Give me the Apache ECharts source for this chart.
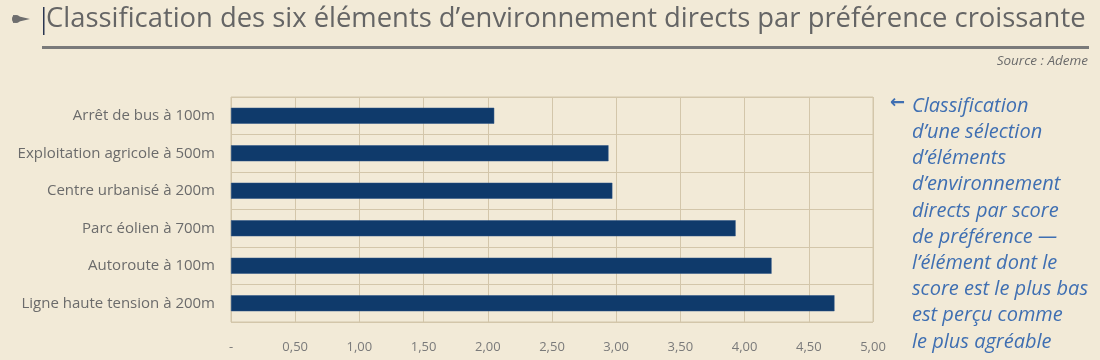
<!DOCTYPE html>
<html>
<head>
<meta charset="utf-8">
<script src="https://cdn.jsdelivr.net/npm/echarts@6/dist/echarts.min.js"></script>
<style>
html,body{margin:0;padding:0;background:#f2ead7;}
#chart{width:1100px;height:360px;}
</style>
</head>
<body>
<div id="chart"></div>
<script>
const categories = [
  "Ligne haute tension à 200m",
  "Autoroute à 100m",
  "Parc éolien à 700m",
  "Centre urbanisé à 200m",
  "Exploitation agricole à 500m",
  "Arrêt de bus à 100m"
];
const scores = [4.70, 4.21, 3.93, 2.97, 2.94, 2.05];
const xTicks = [0, 0.5, 1, 1.5, 2, 2.5, 3, 3.5, 4, 4.5, 5];
const titleText = "Classification des six éléments d’environnement directs par préférence croissante";
const sourceText = "Source : Ademe";
const noteLines = [
  "Classification",
  "d’une sélection",
  "d’éléments",
  "d’environnement",
  "directs par score",
  "de préférence —",
  "l’élément dont le",
  "score est le plus bas",
  "est perçu comme",
  "le plus agréable"
];

const chart = echarts.init(document.getElementById('chart'), null, {renderer:'canvas'});
const grey = '#6b6b6b';
const blue = '#3f6fb2';

const graphics = [
  {type:'polygon', shape:{points:[[13,15],[30,19],[13,23]]}, style:{fill:'#6e6e6e'}},
  {type:'circle', shape:{cx:16, cy:19, r:4}, style:{fill:'#6e6e6e'}},
  {type:'rect', shape:{x:43, y:7, width:1.5, height:28}, style:{fill:'#2a3550'}},
  {type:'rect', shape:{x:42, y:46, width:1047, height:3}, style:{fill:'#7a7a7a'}},
  {type:'text', left:46, top:6, style:{text:titleText, fill:'#656565', font:'normal 27.4px "Open Sans", sans-serif'}},
  {type:'text', right:12, top:54, style:{text:sourceText, fill:grey, font:'italic 13.5px "Open Sans", sans-serif'}},
  {type:'text', left:890, top:94, style:{text:'←', fill:blue, font:'bold 18px "DejaVu Sans", sans-serif'}}
];
noteLines.forEach((t,i)=>{
  graphics.push({type:'text', left:912, top:96 + i*26.2, style:{text:t, fill:blue, font:'italic 20px "Open Sans", sans-serif'}});
});

chart.setOption({
  backgroundColor:'#f2ead7',
  animation:false,
  grid:{left:231, right:227, top:97, bottom:38, show:true, borderColor:'#d3c6aa', borderWidth:1},
  xAxis:{
    type:'value', min:0, max:5, interval:0.5,
    axisLine:{show:false}, axisTick:{show:false},
    splitLine:{show:true, lineStyle:{color:'#d3c6aa', width:1}},
    axisLabel:{
      color:'#7a7a7a', fontSize:13, fontFamily:'"Liberation Sans Narrow", "Open Sans", sans-serif', margin:19,
      formatter:function(v){ return v===0 ? '-' : v.toFixed(2).replace('.', ','); }
    }
  },
  yAxis:{
    type:'category', data:categories,
    axisLine:{show:false}, axisTick:{show:false},
    splitLine:{show:true, lineStyle:{color:'#d3c6aa', width:1}},
    axisLabel:{color:grey, fontSize:15, fontFamily:'"Liberation Sans Narrow", "Open Sans", sans-serif', margin:16}
  },
  series:[{
    type:'bar', data:scores, barWidth:16,
    itemStyle:{color:'#0f3a6b', borderColor:'#2a5286', borderWidth:0.5}
  }],
  graphic:graphics
});
</script>
</body>
</html>
